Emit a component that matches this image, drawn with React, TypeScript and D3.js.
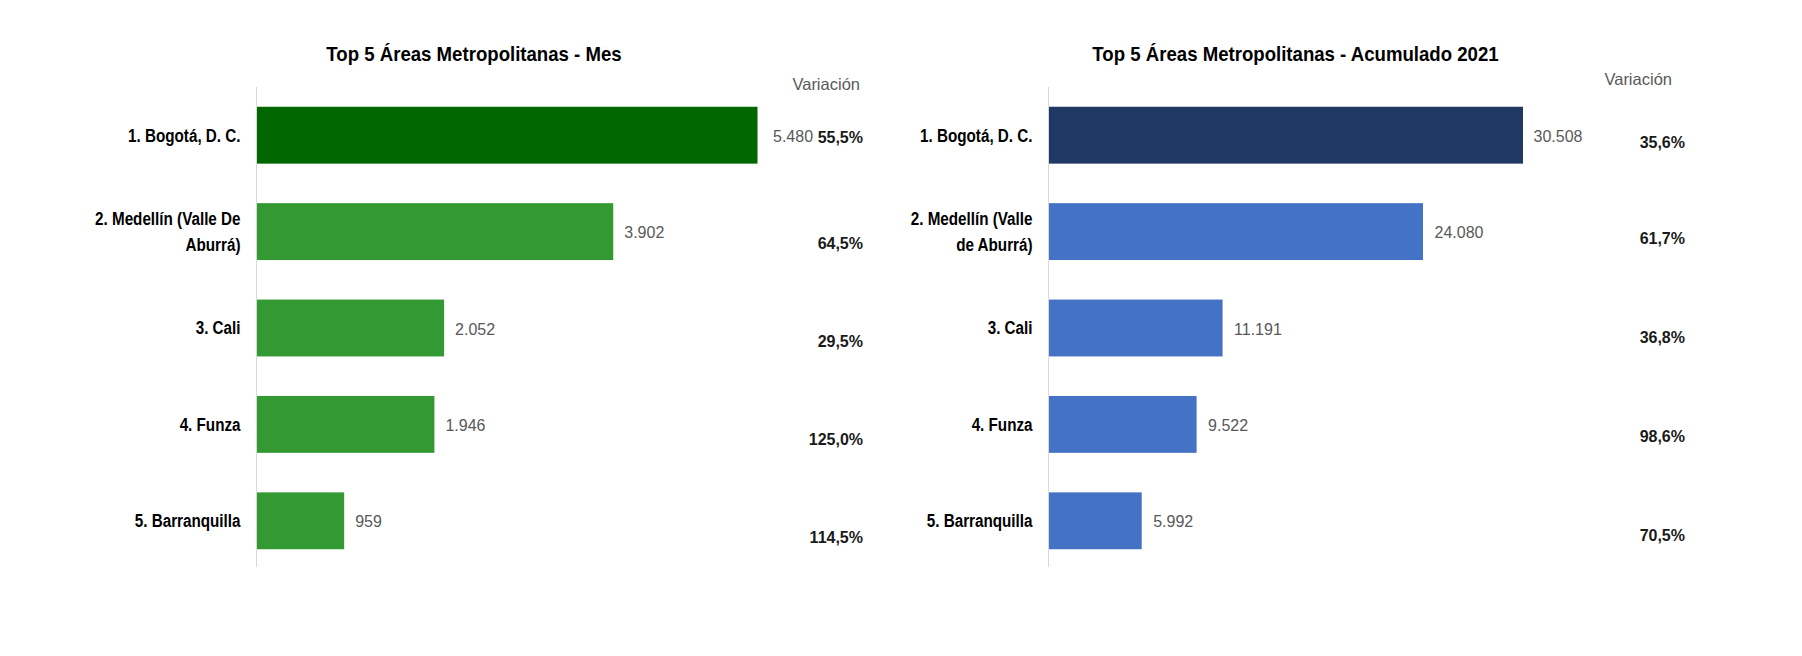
import React from "react";
import * as d3 from "d3";

// ---------- DATA ----------
const categoriesMes = [
  "1. Bogotá, D. C.",
  "2. Medellín (Valle De\nAburrá)",
  "3. Cali",
  "4. Funza",
  "5. Barranquilla",
];
const valuesMes = [5480, 3902, 2052, 1946, 959];
const variacionMes = [55.5, 64.5, 29.5, 125.0, 114.5];

const categoriesAcum = [
  "1. Bogotá, D. C.",
  "2. Medellín (Valle\nde Aburrá)",
  "3. Cali",
  "4. Funza",
  "5. Barranquilla",
];
const valuesAcum = [30508, 24080, 11191, 9522, 5992];
const variacionAcum = [35.6, 61.7, 36.8, 98.6, 70.5];

const titleMes = "Top 5 Áreas Metropolitanas - Mes";
const titleAcum = "Top 5 Áreas Metropolitanas - Acumulado 2021";
const variacionHeader = "Variación";

// ---------- FORMAT ----------
const locale = d3.formatLocale({
  decimal: ",",
  thousands: ".",
  grouping: [3],
  currency: ["$", ""],
});
const fmtInt = locale.format(",d");
const fmtPct = (v: number) => locale.format(".1f")(v) + "%";

const FONT = "'Liberation Sans', Arial, sans-serif";

type TProps = {
  x: number;
  y: number;
  sx?: number;
  anchor?: "start" | "middle" | "end";
  size: number;
  weight?: number | string;
  fill?: string;
  children: React.ReactNode;
};
const T = ({ x, y, sx = 1, anchor = "start", size, weight = "normal", fill = "#000", children }: TProps) => (
  <text
    transform={`translate(${x},${y}) scale(${sx},1)`}
    textAnchor={anchor}
    fontSize={size}
    fontWeight={weight}
    fill={fill}
    fontFamily={FONT}
  >
    {children}
  </text>
);

type Layout = {
  axisX: number;
  maxEndX: number;
  titleX: number;
  headerX: number;
  headerY: number;
  varX: number;
  varFirstOffset: number;
  varRows: [number, number];
  firstGap: number;
  gap: number;
};

type PanelProps = {
  title: string;
  cats: string[];
  vals: number[];
  vars: number[];
  firstColor: string;
  restColor: string;
  layout: Layout;
};

function Panel({ title, cats, vals, vars, firstColor, restColor, layout }: PanelProps) {
  const yTop = 87;
  const yBottom = 569;
  const y = d3.scaleBand<string>().domain(cats).range([yTop, yBottom]).paddingInner(0.41).paddingOuter(0.205);
  const maxV = d3.max(vals) as number;
  const x = d3.scaleLinear().domain([0, maxV]).range([layout.axisX, layout.maxEndX]);
  const varRow = d3.scalePoint<string>().domain(cats.slice(1)).range(layout.varRows);

  const catSize = 17.5;
  const catSx = 0.87;
  const lineH = 25.5;

  return (
    <g>
      <T x={layout.titleX} y={61} sx={0.955} anchor="middle" size={19.5} weight="bold" fill="#000">
        {title}
      </T>
      <T x={layout.headerX} y={layout.headerY} anchor="end" size={16.5} fill="#595959">
        {variacionHeader}
      </T>

      {cats.map((c, i) => {
        const yc = (y(c) as number) + y.bandwidth() / 2;
        const lines = c.split("\n");
        return (
          <g key={c}>
            <rect
              x={x(0)}
              y={y(c)}
              width={x(vals[i]) - x(0)}
              height={y.bandwidth()}
              fill={i === 0 ? firstColor : restColor}
            />
            {lines.map((ln, k) => (
              <T
                key={k}
                x={layout.axisX - 16}
                y={yc + 6.3 + (k - (lines.length - 1) / 2) * lineH}
                sx={catSx}
                anchor="end"
                size={catSize}
                weight="bold"
                fill="#000"
              >
                {ln}
              </T>
            ))}
            <T
              x={x(vals[i]) + (i === 0 ? layout.firstGap : layout.gap)}
              y={yc + 6.5}
              size={16.5}
              sx={0.97}
              fill="#595959"
            >
              {fmtInt(vals[i])}
            </T>
            <T
              x={layout.varX}
              y={(i === 0 ? yc + layout.varFirstOffset : (varRow(c) as number)) + 5.8}
              anchor="end"
              size={16}
              weight="bold"
              fill="#1a1a1a"
            >
              {fmtPct(vars[i])}
            </T>
          </g>
        );
      })}

      <line x1={layout.axisX} x2={layout.axisX} y1={yTop} y2={yBottom - 2} stroke="#d9d9d9" strokeWidth={1} />
    </g>
  );
}

export default function App() {
  return (
    <svg
      width={1802}
      height={656}
      style={{ position: "absolute", left: 0, top: 0, display: "block", background: "#fff" }}
    >
      <rect x={0} y={0} width={1802} height={656} fill="#fff" />
      <Panel
        title={titleMes}
        cats={categoriesMes}
        vals={valuesMes}
        vars={variacionMes}
        firstColor="#006600"
        restColor="#339933"
        layout={{
          axisX: 256.5,
          maxEndX: 757.5,
          titleX: 474,
          headerX: 860,
          headerY: 90,
          varX: 863,
          varFirstOffset: 1.5,
          varRows: [243, 537],
          firstGap: 15.5,
          gap: 11,
        }}
      />
      <Panel
        title={titleAcum}
        cats={categoriesAcum}
        vals={valuesAcum}
        vars={variacionAcum}
        firstColor="#203864"
        restColor="#4472C4"
        layout={{
          axisX: 1048.5,
          maxEndX: 1523,
          titleX: 1295.5,
          headerX: 1672,
          headerY: 85,
          varX: 1685,
          varFirstOffset: 6.5,
          varRows: [238, 535],
          firstGap: 10.5,
          gap: 11.5,
        }}
      />
    </svg>
  );
}
